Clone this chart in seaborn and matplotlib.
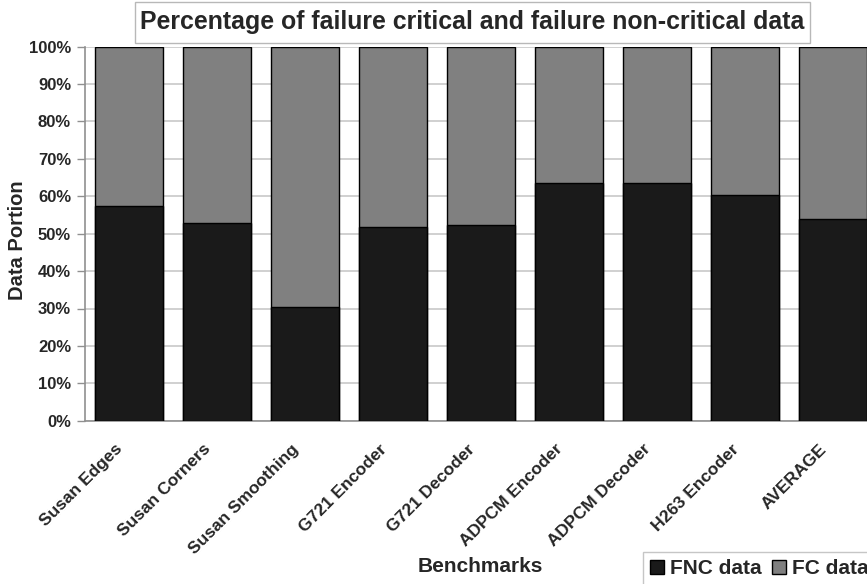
import matplotlib
matplotlib.use("Agg")
import matplotlib.pyplot as plt
import matplotlib.transforms as mtransforms
from matplotlib.patches import Patch, Rectangle
import seaborn as sns
import pandas as pd
import numpy as np

benchmarks = ["Susan Edges", "Susan Corners", "Susan Smoothing", "G721 Encoder",
              "G721 Decoder", "ADPCM Encoder", "ADPCM Decoder", "H263 Encoder", "AVERAGE"]
fnc_data = [57.4, 52.9, 30.3, 51.7, 52.3, 63.6, 63.6, 60.4, 54.0]
fc_data = [42.6, 47.1, 69.7, 48.3, 47.7, 36.4, 36.4, 39.6, 46.0]

sns.set_theme(style="white")
plt.rcParams["font.family"] = ["Liberation Sans", "DejaVu Sans"]
plt.rcParams["font.weight"] = "bold"

df = pd.DataFrame({"Benchmark": benchmarks, "FNC": fnc_data, "FC": fc_data})
df["Total"] = df["FNC"] + df["FC"]

W, H = 867, 584
fig = plt.figure(figsize=(W / 100, H / 100), dpi=100)
left, right, top, bottom = 85, 877, 46.7, 420.7
ax = fig.add_axes([left / W, 1 - bottom / H, (right - left) / W, (bottom - top) / H])

dark = "#1a1a1a"
gray = "#808080"
sns.barplot(data=df, x="Benchmark", y="Total", color=gray, width=0.77,
            edgecolor="black", linewidth=1.0, saturation=1, ax=ax, zorder=3)
sns.barplot(data=df, x="Benchmark", y="FNC", color=dark, width=0.77,
            edgecolor="black", linewidth=1.0, saturation=1, ax=ax, zorder=4)

ax.set_xlim(-0.5, len(benchmarks) - 0.5)
ax.set_ylim(0, 100)
ax.set_yticks(np.arange(0, 101, 10))
ax.set_yticklabels([f"{v}%" for v in range(0, 101, 10)], fontsize=12, fontweight="bold")
ax.yaxis.grid(True, color="#c8c8c8", linewidth=1.2, zorder=0)
ax.set_axisbelow(True)

ax.set_xticks(range(len(benchmarks)))
ax.set_xticklabels(benchmarks, rotation=45, ha="right", rotation_mode="anchor",
                   fontsize=12.5, fontweight="bold")
ax.set_xticks(np.arange(-0.5, len(benchmarks), 1), minor=True)
ax.tick_params(axis="x", which="major", length=0, pad=15)
ax.tick_params(axis="x", which="minor", length=5, width=1, color="#909090", direction="out")
ax.tick_params(axis="y", length=6, width=1, color="#909090", direction="out", pad=4, left=True)

# nudge the slanted category labels to the left of each bar
shift = mtransforms.ScaledTranslation(-14 / 100, 0, fig.dpi_scale_trans)
for lbl in ax.get_xticklabels():
    lbl.set_transform(lbl.get_transform() + shift)

for side in ["top", "right"]:
    ax.spines[side].set_visible(False)
for side in ["left", "bottom"]:
    ax.spines[side].set_color("#909090")
    ax.spines[side].set_linewidth(1.2)

ax.set_xlabel("Benchmarks", fontsize=15, fontweight="bold")
ax.xaxis.set_label_coords((480 - left) / (right - left), -(567 - bottom) / (bottom - top))
ax.xaxis.label.set_va("center")
ax.set_ylabel("Data Portion", fontsize=14.5, fontweight="bold")
ax.yaxis.set_label_coords(-(left - 18) / (right - left), (bottom - 240) / (bottom - top))
ax.yaxis.label.set_va("center")

# title panel
fig.add_artist(Rectangle((135 / W, 1 - 43 / H), (810 - 135) / W, 41 / H,
                         transform=fig.transFigure, facecolor="white",
                         edgecolor="#b8b8b8", linewidth=1, zorder=5))
fig.text(472.5 / W, 1 - 22.5 / H, "Percentage of failure critical and failure non-critical data",
         ha="center", va="center", fontsize=17.9, fontweight="bold", zorder=6)

handles = [Patch(facecolor=dark, edgecolor="black", label="FNC data"),
           Patch(facecolor=gray, edgecolor="black", label="FC data")]
leg = fig.legend(handles=handles, loc="upper left", bbox_to_anchor=(643 / W, 1 - 552 / H), ncol=2,
                 frameon=True, fancybox=False, edgecolor="#b8b8b8",
                 prop={"weight": "bold", "size": 15}, handlelength=0.65, handleheight=0.65,
                 handletextpad=0.3, columnspacing=0.5, borderpad=0.35, borderaxespad=0)
leg.get_frame().set_linewidth(1)

fig.savefig("out.png", dpi=100)
